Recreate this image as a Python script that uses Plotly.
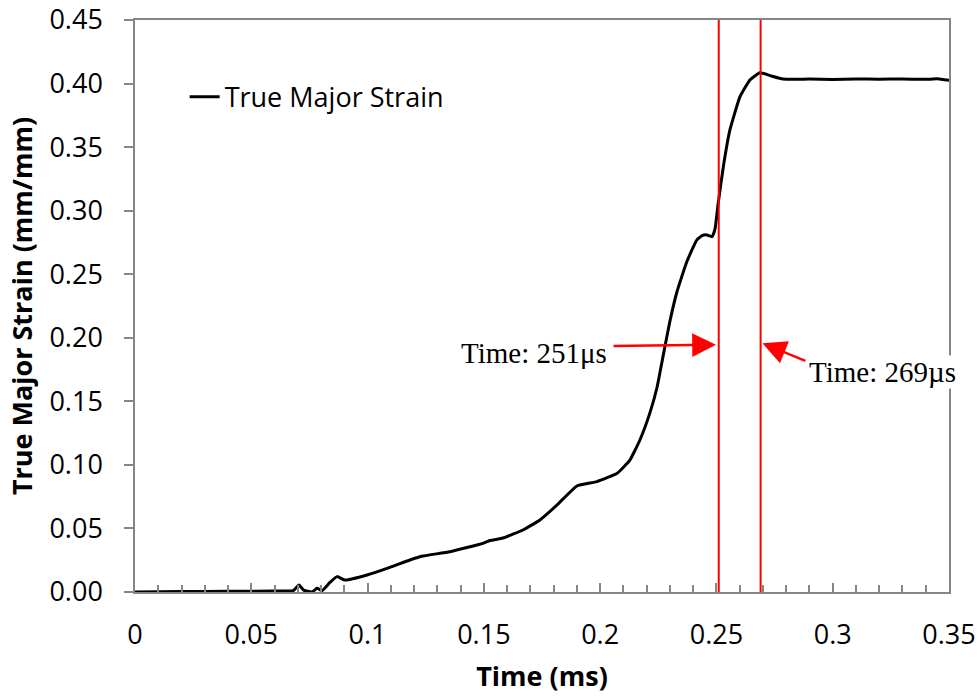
import plotly.graph_objects as go

# data
time_ms = [0.0, 0.02, 0.04, 0.06, 0.068, 0.0705, 0.0725, 0.0761, 0.0783, 0.0804, 0.0838,
           0.0869, 0.0903, 0.0998, 0.1096, 0.1182, 0.1238, 0.1354, 0.1496, 0.1526, 0.1582,
           0.1668, 0.1741, 0.1815, 0.1900, 0.1986, 0.2073, 0.2128, 0.2171, 0.2214, 0.2245,
           0.2270, 0.2300, 0.2330, 0.2373, 0.2416, 0.2440, 0.2459, 0.2481, 0.2494, 0.2507,
           0.2530, 0.2558, 0.2601, 0.2644, 0.2687, 0.2735, 0.2786, 0.29, 0.30, 0.31, 0.32,
           0.33, 0.34, 0.345, 0.35]
strain = [0.0, 0.0003, 0.0005, 0.0008, 0.0010, 0.0055, 0.0015, 0.0000, 0.0030, 0.0010, 0.0075,
          0.0121, 0.0094, 0.0134, 0.0194, 0.0252, 0.0283, 0.0317, 0.0383, 0.0405, 0.0425,
          0.0488, 0.0567, 0.0685, 0.0834, 0.0868, 0.0934, 0.1038, 0.1196, 0.1409, 0.1613,
          0.1850, 0.2130, 0.2360, 0.2600, 0.2770, 0.2805, 0.2809, 0.2795, 0.2856, 0.3050,
          0.3350, 0.3635, 0.3895, 0.4028, 0.4085, 0.4060, 0.4036, 0.4035, 0.4032, 0.4036, 0.4034,
          0.4036, 0.4033, 0.4037, 0.4025]

event_times = [0.251, 0.269]
event_labels = ["Time: 251\u03bcs", "Time: 269\u00b5s"]

# label centres and arrow tail / head points (data units)
label_pos = [(0.1716, 0.1882), (0.3216, 0.1733)]
arrow_tail = [(0.2051, 0.1936), (0.2889, 0.1814)]
arrow_head = [(0.2498, 0.1945), (0.2698, 0.1956)]

axis_grey = "#868686"
sans = "Open Sans"

fig = go.Figure()
fig.add_trace(go.Scatter(x=time_ms, y=strain, mode="lines", name="True Major Strain",
                         line=dict(color="black", width=3, shape="spline", smoothing=0.4)))

for t in event_times:
    fig.add_shape(type="line", x0=t, x1=t, y0=0, y1=0.45, xref="x", yref="y",
                  line=dict(color="#ff0000", width=2))

for (tx, ty), (hx, hy) in zip(arrow_tail, arrow_head):
    fig.add_annotation(x=hx, y=hy, ax=tx, ay=ty, xref="x", yref="y", axref="x", ayref="y",
                       text="", showarrow=True, arrowhead=2, arrowsize=1.9, arrowwidth=2.5,
                       arrowcolor="#ff0000", standoff=0, startstandoff=0)

for (lx, ly), lab in zip(label_pos, event_labels):
    fig.add_annotation(x=lx, y=ly, xref="x", yref="y", text=lab, showarrow=False,
                       font=dict(family="Liberation Serif", size=29, color="black"),
                       bgcolor="white" if lx > 0.3 else "rgba(0,0,0,0)", borderpad=0)

fig.update_layout(
    width=980, height=696,
    margin=dict(l=135, r=31, t=20, b=104),
    plot_bgcolor="white", paper_bgcolor="white",
    font=dict(family=sans, size=27, color="black"),
    showlegend=True,
    legend=dict(x=0.061, y=0.865, xanchor="left", yanchor="middle", bgcolor="rgba(0,0,0,0)",
                font=dict(family=sans, size=27), itemwidth=30),
)
fig.update_xaxes(range=[0, 0.35], dtick=0.05, tick0=0, ticks="inside", ticklen=9,
                 tickcolor=axis_grey, tickwidth=1.5, showline=True, linecolor=axis_grey,
                 linewidth=1.5, mirror=True, showgrid=False, zeroline=False,
                 ticklabelstandoff=18, automargin=False, ticklabeloverflow="allow",
                 minor=dict(dtick=0.01, ticks="inside", ticklen=7, tickcolor=axis_grey,
                            tickwidth=1.5, showgrid=False),
                 title=dict(text="<b>Time (ms)</b>", standoff=16,
                            font=dict(family=sans, size=27)))
fig.update_yaxes(range=[0, 0.45], dtick=0.05, tick0=0, tickformat=".2f", ticks="outside",
                 ticklen=9, tickcolor=axis_grey, tickwidth=1.5, showline=True,
                 linecolor=axis_grey, linewidth=1.5, mirror=True, showgrid=False,
                 zeroline=False, ticklabelstandoff=16, automargin=False,
                 ticklabeloverflow="allow",
                 title=dict(text="<b>True Major Strain (mm/mm)</b>", standoff=9,
                            font=dict(family=sans, size=27)))

# drop the browser's default body margin so the figure fills the window
fig.write_html("out.html", config={"displayModeBar": False},
               post_script="document.body.style.margin='0';")
